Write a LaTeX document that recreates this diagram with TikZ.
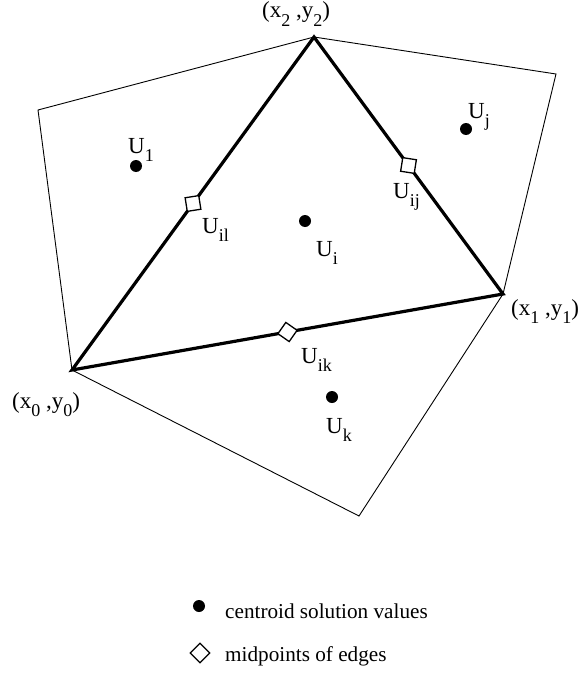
\documentclass[tikz,border=0pt]{standalone}
\usepackage{fontspec}
\setmainfont{Liberation Serif}
\usetikzlibrary{shapes.geometric,calc}
\newcommand\sbs[1]{\raisebox{-0.36em}{\fontsize{18}{18}\selectfont #1}}
\tikzset{
  thin edge/.style={line width=0.9pt},
  thick edge/.style={line width=3.2pt, line join=miter},
  dot/.style={circle, fill=black, inner sep=0pt, minimum size=12pt},
  mid/.style={diamond, draw=black, fill=white, line width=1.3pt, aspect=1, inner sep=0pt, minimum size=20pt},
  lbl/.style={anchor=base west, inner sep=0pt, font=\fontsize{23}{27}\selectfont},
  leg/.style={anchor=base west, inner sep=0pt, font=\fontsize{21.2}{25}\selectfont},
}
\begin{document}
\begin{tikzpicture}[x=1pt,y=-1pt]
\useasboundingbox (0,0) rectangle (584,677);
% vertices
\coordinate (v0) at (72,370);
\coordinate (v1) at (503,294);
\coordinate (v2) at (314,37);
\coordinate (A) at (38,110);
\coordinate (B) at (556,74);
\coordinate (C) at (359,516);
% outer cells
\draw[thin edge] (v2) -- (A) -- (v0) -- (C) -- (v1) -- (B) -- cycle;
% triangle
\draw[thick edge] (v0) -- (v1) -- (v2) -- cycle;
% centroids
\node[dot] (U1) at (136,166) {};
\node[dot] (Uj) at (466,129) {};
\node[dot] (Ui) at (305,221) {};
\node[dot] (Uk) at (332,397) {};
% midpoints
\node[mid, rotate=54] (Uil) at ($(v0)!0.5!(v2)$) {};
\node[mid, rotate=-54] (Uij) at ($(v2)!0.5!(v1)$) {};
\node[mid, rotate=10] (Uik) at ($(v0)!0.5!(v1)$) {};
% labels
\node[lbl] (tU1) at (128,153) {U\sbs{1}};
\node[lbl] (tUj) at (468,118) {U\sbs{j}};
\node[lbl] (tUi) at (316,256) {U\sbs{i}};
\node[lbl] (tUk) at (326,433) {U\sbs{k}};
\node[lbl] (tUil) at (202,233) {U\sbs{il}};
\node[lbl] (tUij) at (393,198) {U\sbs{ij}};
\node[lbl] (tUik) at (301,363) {U\sbs{ik}};
\node[lbl] (tv2) at (262,18) {(x\sbs{2} ,y\sbs{2})};
\node[lbl] (tv1) at (511,315) {(x\sbs{1} ,y\sbs{1})};
\node[lbl] (tv0) at (12,408) {(x\sbs{0} ,y\sbs{0})};
% legend
\node[dot] (ldot) at (199,606) {};
\node[leg] (ltxt1) at (225,618) {centroid solution values};
\node[mid] (ldia) at (200,653) {};
\node[leg] (ltxt2) at (225,661) {midpoints of edges};
\end{tikzpicture}
\end{document}
